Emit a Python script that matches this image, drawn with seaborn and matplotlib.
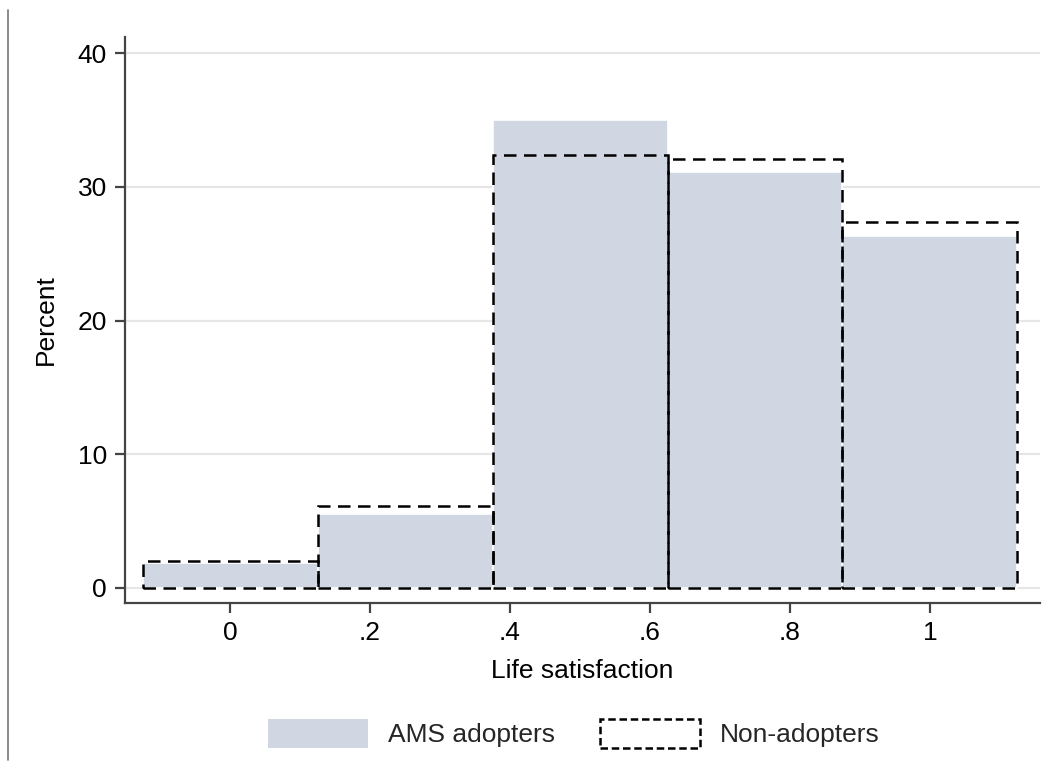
import matplotlib
matplotlib.use("Agg")
import matplotlib.pyplot as plt
import matplotlib.patches as mpatches
import matplotlib.lines as mlines
import numpy as np
import pandas as pd
import seaborn as sns

# bin centres (width .25) and percent per group
bin_centers = [0, 0.25, 0.5, 0.75, 1.0]
ams_pct = [1.9, 5.5, 35.0, 31.1, 26.3]
non_pct = [2.0, 6.1, 32.4, 32.1, 27.4]
bin_edges = [-0.125, 0.125, 0.375, 0.625, 0.875, 1.125]

x_ticks = [0, 0.2, 0.4, 0.6, 0.8, 1.0]
x_ticklabels = ["0", ".2", ".4", ".6", ".8", "1"]
y_ticks = [0, 10, 20, 30, 40]

fill_color = "#D1D7E2"
axis_color = "#444444"
fs = 19

sns.set_theme(style="white")
plt.rcParams["font.family"] = ["Liberation Sans", "DejaVu Sans"]

df = pd.DataFrame({"x": bin_centers, "ams": ams_pct, "non": non_pct})

fig = plt.figure(figsize=(10.6, 7.72), dpi=100)
ax = fig.add_axes([0.118, 0.219, 0.863, 0.733])

ax.yaxis.grid(True, color="#E6E6E6", linewidth=1.6)
ax.set_axisbelow(True)

sns.histplot(data=df, x="x", weights="ams", bins=bin_edges, stat="count",
             color=fill_color, alpha=1, edgecolor="white", linewidth=1.2, ax=ax)
sns.histplot(data=df, x="x", weights="non", bins=bin_edges, stat="count",
             fill=False, color="black", edgecolor="black", linewidth=1.8,
             linestyle=(0, (5, 3)), ax=ax)

ax.set_xlim(-0.15, 1.157)
ax.set_ylim(-1.12, 41.2)
ax.set_xticks(x_ticks)
ax.set_xticklabels(x_ticklabels)
ax.set_yticks(y_ticks)

ax.set_xlabel("Life satisfaction", fontsize=fs, labelpad=10, color="black")
ax.set_ylabel("Percent", fontsize=fs, labelpad=14, color="black")
ax.tick_params(axis="both", labelsize=fs, colors=axis_color, labelcolor="black",
               length=7, width=1.6, direction="out", pad=6)
ax.tick_params(left=True, bottom=True)

sns.despine(ax=ax)
for side in ["left", "bottom"]:
    ax.spines[side].set_color(axis_color)
    ax.spines[side].set_linewidth(1.6)

# legend
h1 = mpatches.Patch(facecolor=fill_color, edgecolor="none", label="AMS adopters")
h2 = mpatches.Patch(facecolor="white", edgecolor="black", linewidth=1.8,
                    linestyle=(0, (3, 1.5)), label="Non-adopters")
fig.legend(handles=[h1, h2], loc="center", bbox_to_anchor=(0.541, 0.05),
           ncol=2, frameon=False, fontsize=fs, handlelength=3.8,
           handleheight=1.3, columnspacing=1.7, handletextpad=0.75)

# left border line of graph region
fig.add_artist(mlines.Line2D([0.0075, 0.0075], [0.015, 0.987], color="#777777",
                             linewidth=1.2))

fig.savefig("out.png", dpi=100)
